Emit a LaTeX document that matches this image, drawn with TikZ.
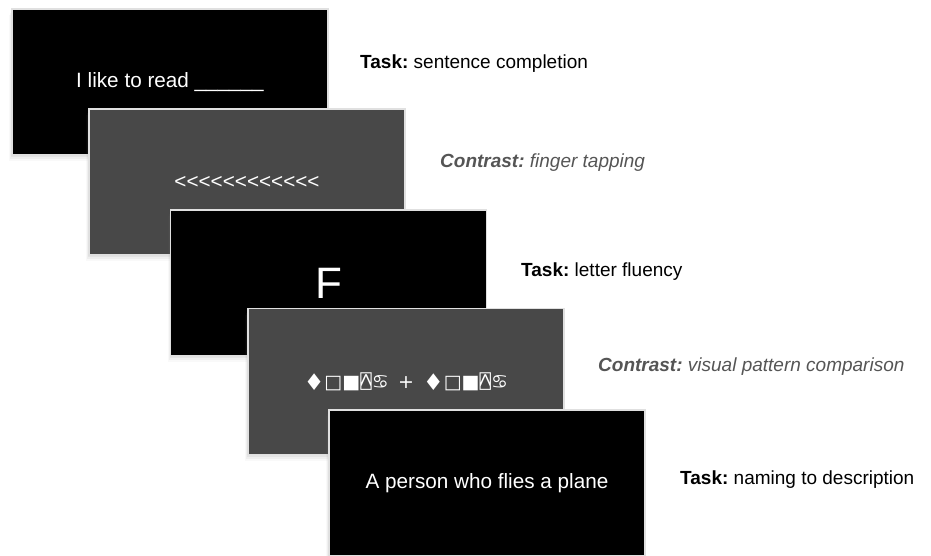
\documentclass[tikz,border=0pt]{standalone}
\usepackage{fontspec}
\setmainfont{Liberation Sans}
\newfontfamily\symfont{DejaVu Sans}
\newfontfamily\symmono{DejaVu Sans Mono}
\usetikzlibrary{shadows}
\frenchspacing

\definecolor{slidegrey}{HTML}{484848}
\definecolor{contrastgrey}{HTML}{555555}

\newcommand{\bigdiamond}{\raisebox{-2.5pt}{\fontsize{23}{22}\selectfont ♦}}

\tikzset{
  soft shadow/.style={
    drop shadow={shadow xshift=-1pt, shadow yshift=-2pt, opacity=0.10},
    drop shadow={shadow xshift=-2pt, shadow yshift=-4pt, opacity=0.08},
    drop shadow={shadow xshift=-3pt, shadow yshift=-6pt, opacity=0.05}},
  slide/.style={draw=black!12, line width=1.5pt, fill=black, text=white,
    minimum width=316pt, minimum height=146pt, inner sep=0pt, soft shadow,
    font=\fontsize{20.7}{24}\selectfont},
  greyslide/.style={slide, fill=slidegrey},
  caption/.style={anchor=base west, inner sep=0pt, font=\fontsize{19}{23}\selectfont},
  contrast/.style={caption, text=contrastgrey}
}

\begin{document}
\begin{tikzpicture}[x=1pt,y=-1pt]
   \useasboundingbox (0,0) rectangle (931,556);
   \node[slide] (s1) at (170,82) {I like to read \_\_\_\_\_\_};
   \node[greyslide] (s2) at (247,182) {<{}<{}<{}<{}<{}<{}<{}<{}<{}<{}<{}<};
   \node[slide, font=\fontsize{44}{48}\selectfont] (s3) at (328.5,283) {F};
   \node[greyslide, font=\fontsize{19}{22}\selectfont] (s4) at (406,381.5)
      {\symfont\bigdiamond□■{\symmono ⍓}♋\ \,+\ \,\bigdiamond□■{\symmono ⍓}♋};
   \node[slide] (s5) at (487,483) {A person who flies a plane};

   \node[caption] (c1) at (360,69) {\textbf{Task:} sentence completion};
   \node[contrast] (c2) at (440,168) {\textbf{\textit{Contrast:}} \textit{finger tapping}};
   \node[caption] (c3) at (521,276) {\textbf{Task:} letter fluency};
   \node[contrast] (c4) at (598,371) {\textbf{\textit{Contrast:}} \textit{visual pattern comparison}};
   \node[caption] (c5) at (680,484) {\textbf{Task:} naming to description};
\end{tikzpicture}
\end{document}
